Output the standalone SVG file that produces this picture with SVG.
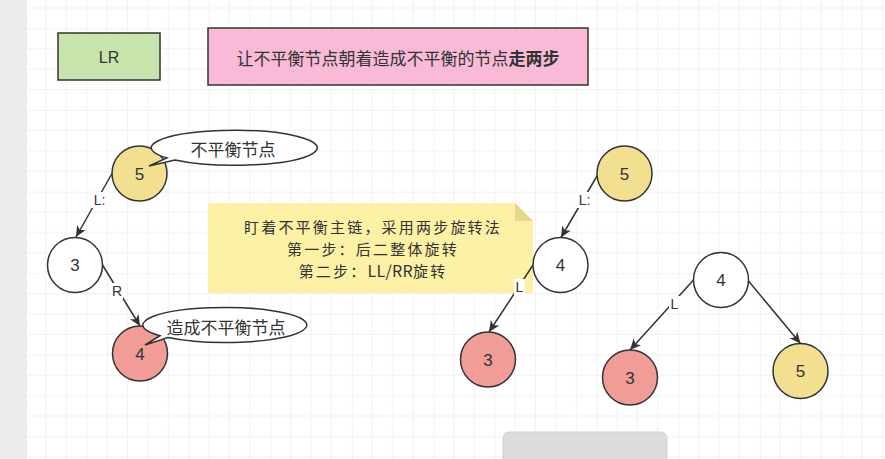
<svg xmlns="http://www.w3.org/2000/svg" width="885" height="459" viewBox="0 0 885 459">
<defs>
<pattern id="grid" patternUnits="userSpaceOnUse" x="25.4" y="28.4" width="81.6" height="81.6">
<path d="M20.4 0V81.6M40.8 0V81.6M61.2 0V81.6M0 20.4H81.6M0 40.8H81.6M0 61.2H81.6" stroke="#f1f1f1" stroke-width="1" fill="none"/>
<path d="M0 0V81.6M0 0H81.6" stroke="#e6e6e6" stroke-width="1" fill="none"/>
</pattern>
<marker id="arr" markerUnits="userSpaceOnUse" markerWidth="14" markerHeight="12" refX="11" refY="5" orient="auto">
<path d="M0 0L11 5L0 10L3 5Z" fill="#333"/>
</marker>
</defs>
<style>
text{font-family:"Liberation Sans","Noto Sans CJK SC",sans-serif;fill:#333;text-anchor:middle;dominant-baseline:central}
.cjk{font-family:"Noto Sans CJK SC",sans-serif;font-size:17px}
.note{font-family:"Noto Sans CJK SC",sans-serif;font-size:15px;letter-spacing:2.2px}
.lat{letter-spacing:0.3px;font-size:16px}
.node{stroke:#333;stroke-width:1.5}
.num{font-size:17px}
.edge{stroke:#333;stroke-width:1.5;fill:none;marker-end:url(#arr)}
.lbl{font-size:14px}
.lblbg{fill:#fff}
</style>
<rect width="885" height="459" fill="#fff"/>
<rect width="885" height="459" fill="url(#grid)"/>
<rect x="0" y="0" width="27" height="459" fill="#eaecee"/>
<rect x="503" y="432" width="164" height="40" rx="6" fill="#dcdcdc" stroke="#d0d0d0"/>

<g id="title-lr">
<rect x="58" y="33" width="102" height="47" fill="#c6e4ac" stroke="#333" stroke-width="1.5"/>
<text x="109" y="57" font-size="16">LR</text>
</g>
<g id="title-desc">
<rect x="208" y="28" width="380" height="57" fill="#f8bad6" stroke="#333" stroke-width="1.5"/>
<text x="398" y="57" class="cjk">让不平衡节点朝着造成不平衡的节点<tspan font-weight="bold">走两步</tspan></text>
</g>

<g id="note">
<path d="M208 203H515L533 221V293H208Z" fill="#fdf1a6"/>
<path d="M515 203L533 221H515Z" fill="#e6d98f"/>
<text x="373" y="226" class="note">盯着不平衡主链，采用两步旋转法</text>
<text x="373" y="248" class="note">第一步：后二整体旋转</text>
<text x="373" y="270" class="note">第二步：<tspan class="lat">LL/RR</tspan>旋转</text>
</g>

<g id="connectors">
<line class="edge" x1="112" y1="173.5" x2="76" y2="237"/>
<line class="edge" x1="102.5" y1="265" x2="140" y2="326"/>
<line class="edge" x1="597" y1="176" x2="561" y2="237.5"/>
<line class="edge" x1="533" y1="265" x2="489" y2="332"/>
<line class="edge" x1="693.5" y1="280" x2="630" y2="350"/>
<line class="edge" x1="748.5" y1="281" x2="800.5" y2="343.5"/>
<rect class="lblbg" x="91" y="192" width="17" height="16"/>
<text x="99.5" y="200" class="lbl">L:</text>
<rect class="lblbg" x="111" y="283" width="12" height="16"/>
<text x="117" y="291" class="lbl">R</text>
<rect class="lblbg" x="576" y="192" width="17" height="16"/>
<text x="584.5" y="200" class="lbl">L:</text>
<rect class="lblbg" x="514" y="279" width="11" height="16"/>
<text x="519.5" y="287" class="lbl">L</text>
<rect class="lblbg" x="669" y="296" width="11" height="16"/>
<text x="674.5" y="304" class="lbl">L</text>
</g>

<g id="n5-left">
<circle class="node" cx="139.5" cy="173.5" r="27.5" fill="#f2df8f"/>
<text x="139.5" y="174" class="num">5</text>
</g>
<g id="callout-unbalanced">
<path d="M167 158A83 17.5 0 1 1 175 160L149 166Z" fill="#fff" stroke="#333" stroke-width="1.5" stroke-linejoin="miter"/>
<text x="233" y="148" class="cjk">不平衡节点</text>
</g>
<g id="n3-left">
<circle class="node" cx="75" cy="265" r="27.5" fill="#fff"/>
<text x="75" y="265.5" class="num">3</text>
</g>
<g id="n4-left">
<circle class="node" cx="140" cy="353.5" r="27.5" fill="#f29c97"/>
<text x="140" y="354" class="num">4</text>
</g>
<g id="callout-cause">
<path d="M160 335.7A82 17.5 0 1 1 168 337.6L145 345Z" fill="#fff" stroke="#333" stroke-width="1.5"/>
<text x="226" y="326" class="cjk">造成不平衡节点</text>
</g>

<g id="n5-mid">
<circle class="node" cx="624.5" cy="173.5" r="27.5" fill="#f2df8f"/>
<text x="624.5" y="174" class="num">5</text>
</g>
<g id="n4-mid">
<circle class="node" cx="560.5" cy="265" r="27.5" fill="#fff"/>
<text x="560.5" y="265.5" class="num">4</text>
</g>
<g id="n3-mid">
<circle class="node" cx="488" cy="359.5" r="27.5" fill="#f29c97"/>
<text x="488" y="360" class="num">3</text>
</g>

<g id="n4-right">
<circle class="node" cx="721" cy="280" r="27.5" fill="#fff"/>
<text x="721" y="280.5" class="num">4</text>
</g>
<g id="n3-right">
<circle class="node" cx="630" cy="377.5" r="27.5" fill="#f29c97"/>
<text x="630" y="378" class="num">3</text>
</g>
<g id="n5-right">
<circle class="node" cx="800.5" cy="371" r="27.5" fill="#f2df8f"/>
<text x="800.5" y="371.5" class="num">5</text>
</g>
</svg>
